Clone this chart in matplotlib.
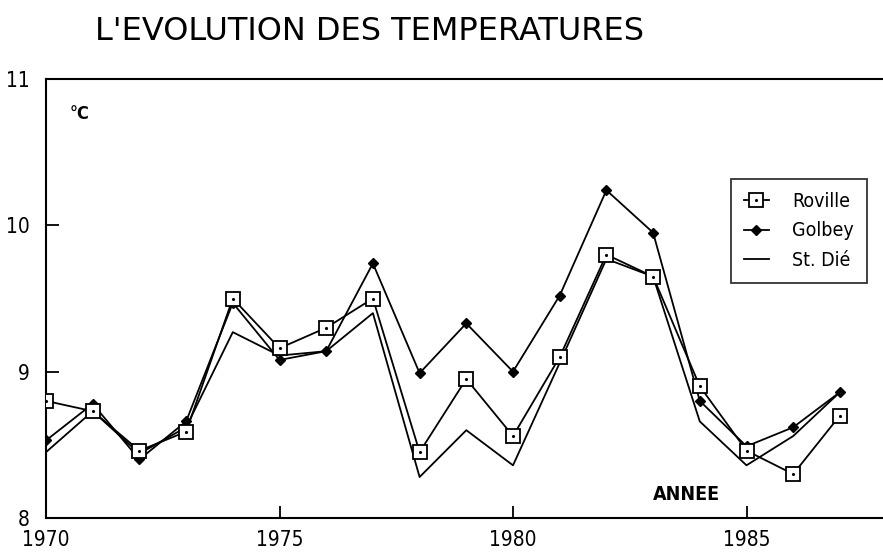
"""L'evolution des temperatures: Roville, Golbey, St. Die, 1970-1987."""
import matplotlib

matplotlib.use('Agg')
import matplotlib.pyplot as plt
from matplotlib.legend_handler import HandlerTuple
from matplotlib.lines import Line2D

years = list(range(1970, 1988))
roville = [8.80, 8.73, 8.46, 8.59, 9.50, 9.16, 9.30, 9.50, 8.45,
           8.95, 8.56, 9.10, 9.80, 9.65, 8.90, 8.46, 8.30, 8.70]
golbey = [8.53, 8.78, 8.40, 8.66, 9.47, 9.08, 9.14, 9.74, 8.99,
          9.33, 9.00, 9.52, 10.24, 9.95, 8.80, 8.49, 8.62, 8.86]
st_die = [8.45, 8.73, 8.44, 8.62, 9.27, 9.11, 9.14, 9.40, 8.28,
          8.60, 8.36, 9.06, 9.77, 9.65, 8.66, 8.36, 8.56, 8.86]

x_ticks = [1970, 1975, 1980, 1985]
y_ticks = [8, 9, 10, 11]

plt.rcParams['font.family'] = ['DejaVu Sans']
plt.rcParams['font.stretch'] = 'condensed'

fig = plt.figure(figsize=(8.83, 5.56), dpi=100)
ax = fig.add_axes([46 / 883, 38 / 556, 837 / 883, 439 / 556])

lw = 1.3
ax.plot(years, st_die, color='black', linewidth=lw, zorder=2)
ax.plot(years, golbey, color='black', linewidth=lw, marker='D', markersize=5,
        markerfacecolor='black', zorder=3)
ax.plot(years, roville, color='black', linewidth=lw, marker='s', markersize=10,
        markerfacecolor='white', markeredgewidth=1.3, zorder=4)
ax.plot(years, roville, linestyle='none', marker='.', markersize=2.5,
        color='black', zorder=5)

ax.set_xlim(1970, 1970 + 837 / 46.7)
ax.set_ylim(8, 11)
ax.set_xticks(x_ticks)
ax.set_yticks(y_ticks)
ax.tick_params(axis='both', direction='in', length=9, width=1.3,
               labelsize=15)
ax.tick_params(axis='y', pad=12)
ax.tick_params(axis='x', pad=9)
for side in ('left', 'bottom', 'top'):
    ax.spines[side].set_linewidth(1.5)
ax.spines['right'].set_visible(False)

ax.text(1970.5, 10.73, '°C', fontsize=13, fontweight='bold')
ax.text(1983.0, 8.12, 'ANNEE', fontsize=14, fontweight='bold')
fig.text(95 / 883, 1 - 32 / 556, "L'EVOLUTION DES TEMPERATURES",
         fontsize=23, va='center', ha='left', stretch='normal')

h_rov = (Line2D([], [], color='black', lw=lw, marker='s', markersize=10,
                markerfacecolor='white', markeredgewidth=1.3),
         Line2D([], [], linestyle='none', marker='.', markersize=2.5, color='black'))
h_gol = Line2D([], [], color='black', lw=lw, marker='D', markersize=5)
h_std = Line2D([], [], color='black', lw=lw)
leg = ax.legend([h_rov, h_gol, h_std], ['Roville', 'Golbey', 'St. Dié'],
                handler_map={tuple: HandlerTuple(ndivide=1)},
                loc='upper left', bbox_to_anchor=(731 / 883, 1 - 179 / 556),
                bbox_transform=fig.transFigure, borderaxespad=0,
                fontsize=14, frameon=True, fancybox=False, handlelength=1.3,
                labelspacing=0.55, borderpad=0.65, handletextpad=1.2)
leg.get_frame().set_edgecolor('black')
leg.get_frame().set_linewidth(1.3)

fig.savefig('out.png', dpi=100)
plt.close(fig)
